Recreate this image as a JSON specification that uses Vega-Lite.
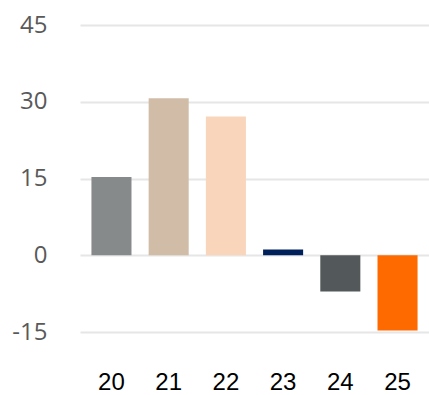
{
  "$schema": "https://vega.github.io/schema/vega-lite/v6.json",
  "width": 349,
  "height": 307,
  "autosize": {"type": "none"},
  "padding": {"left": 80, "top": 25, "right": 0, "bottom": 63},
  "background": "white",
  "config": {"view": {"stroke": null}},
  "data": {
    "values": [
      {"year": "20", "value": 15.3, "color": "#878a8a"},
      {"year": "21", "value": 30.7, "color": "#d1bca8"},
      {"year": "22", "value": 27.1, "color": "#f9d5bc"},
      {"year": "23", "value": 1.1, "color": "#00205b"},
      {"year": "24", "value": -7.1, "color": "#53585a"},
      {"year": "25", "value": -14.7, "color": "#ff6a00"}
    ]
  },
  "mark": {"type": "bar"},
  "encoding": {
    "x": {
      "field": "year",
      "type": "nominal",
      "sort": null,
      "scale": {"paddingInner": 0.3, "paddingOuter": 0.2},
      "axis": {
        "title": null,
        "labelAngle": 0,
        "domain": false,
        "ticks": false,
        "grid": false,
        "labelFont": "Liberation Sans",
        "labelFontSize": 24,
        "labelColor": "#000000",
        "labelPadding": 38,
        "labelDx": -6
      }
    },
    "y": {
      "field": "value",
      "type": "quantitative",
      "scale": {"domain": [-15, 45], "nice": false, "zero": false},
      "axis": {
        "title": null,
        "values": [-15, 0, 15, 30, 45],
        "labelExpr": "'' + datum.value",
        "domain": false,
        "ticks": false,
        "grid": true,
        "gridColor": "#e6e6e6",
        "gridWidth": 2,
        "labelFont": "Open Sans",
        "labelFontSize": 24,
        "labelColor": "#595959",
        "labelPadding": 33
      }
    },
    "color": {"field": "color", "type": "nominal", "scale": null, "legend": null}
  }
}
